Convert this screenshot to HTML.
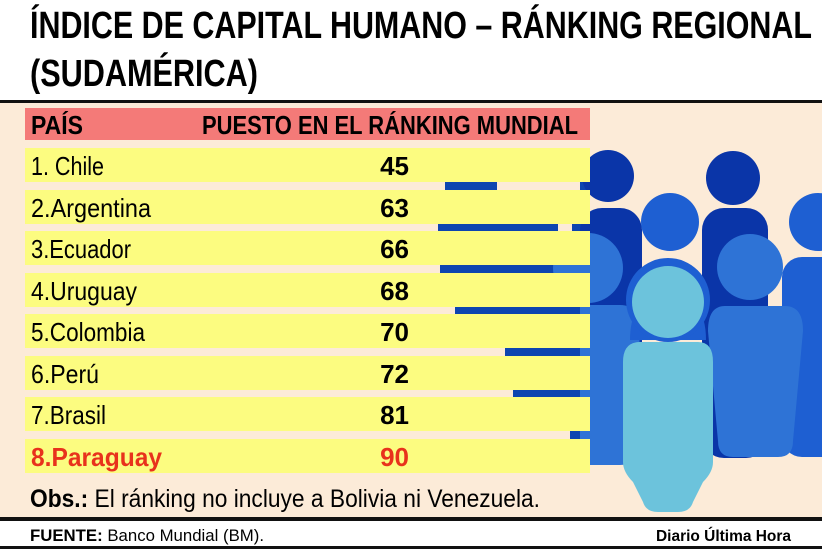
<!DOCTYPE html>
<html><head><meta charset="utf-8"><style>
html,body{margin:0;padding:0;background:#fff;}
svg{display:block}
text{font-family:"Liberation Sans Narrow","Liberation Sans",sans-serif;}
</style></head><body>
<svg width="822" height="549" viewBox="0 0 822 549" xmlns="http://www.w3.org/2000/svg">
<rect width="822" height="549" fill="#fff"/>
<text x="30" y="38" font-size="38" font-weight="bold" textLength="782" lengthAdjust="spacingAndGlyphs">ÍNDICE DE CAPITAL HUMANO – RÁNKING REGIONAL</text>
<text x="30" y="86" font-size="38" font-weight="bold" textLength="228" lengthAdjust="spacingAndGlyphs">(SUDAMÉRICA)</text>
<rect x="0" y="100" width="822" height="3" fill="#111"/>
<rect x="0" y="103" width="822" height="415" fill="#fcebd8"/>
<!-- slivers behind table -->
<g fill="#0d45b0">
<rect x="445" y="182" width="52" height="8"/>
<rect x="580" y="182" width="12" height="8"/>
<rect x="438" y="224" width="120" height="7"/>
<rect x="572" y="224" width="20" height="7"/>
<rect x="440" y="265" width="150" height="8"/>
<rect x="455" y="307" width="135" height="7"/>
<rect x="505" y="348" width="85" height="8"/>
<rect x="513" y="390" width="77" height="7"/>
<rect x="570" y="431" width="20" height="8"/>
</g>
<!-- figures -->
<g>
<circle cx="608" cy="176" r="26" fill="#0a35a8"/>
<rect x="580" y="208" width="62" height="250" rx="22" fill="#0a35a8"/>
<circle cx="733" cy="178" r="27" fill="#0a35a8"/>
<rect x="702" y="208" width="66" height="250" rx="22" fill="#0a35a8"/>
<circle cx="670" cy="222" r="29" fill="#1e5fd2"/>
<circle cx="818" cy="222" r="29" fill="#1e5fd2"/>
<rect x="782" y="257" width="60" height="200" rx="20" fill="#1e5fd2"/>
<circle cx="588" cy="268" r="35" fill="#2e73d6"/>
<path d="M580 305 h40 q20 0 20 25 l-5 120 q0 15 -15 15 h-40 z" fill="#2e73d6"/>
<circle cx="750" cy="267" r="33" fill="#2e73d6"/>
<path d="M725 306 h60 q18 0 18 25 l-10 110 q0 16 -15 16 h-45 q-15 0 -15 -16 l-10 -110 q0 -25 17 -25z" fill="#2e73d6"/>
<path d="M630 340 q0 -45 38 -45 q38 0 38 45 z" fill="#1e5fd2"/>
<circle cx="668" cy="300" r="42" fill="#1e5fd2"/>
<circle cx="668" cy="302" r="36" fill="#6cc3dc"/>
<path d="M640 342 h58 q15 0 15 20 v100 q0 10 -10 20 l-10 20 q-3 10 -15 10 h-20 q-12 0 -15 -10 l-10 -20 q-10 -10 -10 -20 v-100 q0 -20 17 -20z" fill="#6cc3dc"/>
</g>
<rect x="25" y="108" width="565" height="32" fill="#f47a78"/>
<g fill="#fcfc80">
<rect x="25" y="148" width="565" height="34"/>
<rect x="25" y="190" width="565" height="34"/>
<rect x="25" y="231" width="565" height="34"/>
<rect x="25" y="273" width="565" height="34"/>
<rect x="25" y="314" width="565" height="34"/>
<rect x="25" y="356" width="565" height="34"/>
<rect x="25" y="397" width="565" height="34"/>
<rect x="25" y="439" width="565" height="34"/>
</g>
<g font-size="26" font-weight="bold">
<text x="31" y="134" textLength="52" lengthAdjust="spacingAndGlyphs">PAÍS</text>
<text x="202" y="134" textLength="376" lengthAdjust="spacingAndGlyphs">PUESTO EN EL RÁNKING MUNDIAL</text>
</g>
<g font-size="26">
<text x="31" y="175" textLength="73" lengthAdjust="spacingAndGlyphs">1. Chile</text>
<text x="31" y="217" textLength="120" lengthAdjust="spacingAndGlyphs">2.Argentina</text>
<text x="31" y="258" textLength="100" lengthAdjust="spacingAndGlyphs">3.Ecuador</text>
<text x="31" y="300" textLength="106" lengthAdjust="spacingAndGlyphs">4.Uruguay</text>
<text x="31" y="341" textLength="114" lengthAdjust="spacingAndGlyphs">5.Colombia</text>
<text x="31" y="383" textLength="68" lengthAdjust="spacingAndGlyphs">6.Perú</text>
<text x="31" y="424" textLength="75" lengthAdjust="spacingAndGlyphs">7.Brasil</text>
<text x="31" y="466" font-weight="bold" fill="#e8321c" textLength="131" lengthAdjust="spacingAndGlyphs">8.Paraguay</text>
</g>
<g font-size="26" font-weight="bold" text-anchor="end">
<text x="409" y="175">45</text>
<text x="409" y="217">63</text>
<text x="409" y="258">66</text>
<text x="409" y="300">68</text>
<text x="409" y="341">70</text>
<text x="409" y="383">72</text>
<text x="409" y="424">81</text>
<text x="409" y="466" fill="#e8321c">90</text>
</g>
<text x="30" y="507" font-size="25" textLength="510" lengthAdjust="spacingAndGlyphs"><tspan font-weight="bold">Obs.:</tspan> El ránking no incluye a Bolivia ni Venezuela.</text>
<rect x="0" y="517" width="822" height="4" fill="#111"/>
<text x="30" y="541" font-size="17" textLength="234" lengthAdjust="spacingAndGlyphs"><tspan font-weight="bold">FUENTE:</tspan> Banco Mundial (BM).</text>
<text x="656" y="541" font-size="16" font-weight="bold" textLength="135" lengthAdjust="spacingAndGlyphs">Diario Última Hora</text>
<rect x="0" y="546" width="822" height="3" fill="#111"/>
</svg>
</body></html>
